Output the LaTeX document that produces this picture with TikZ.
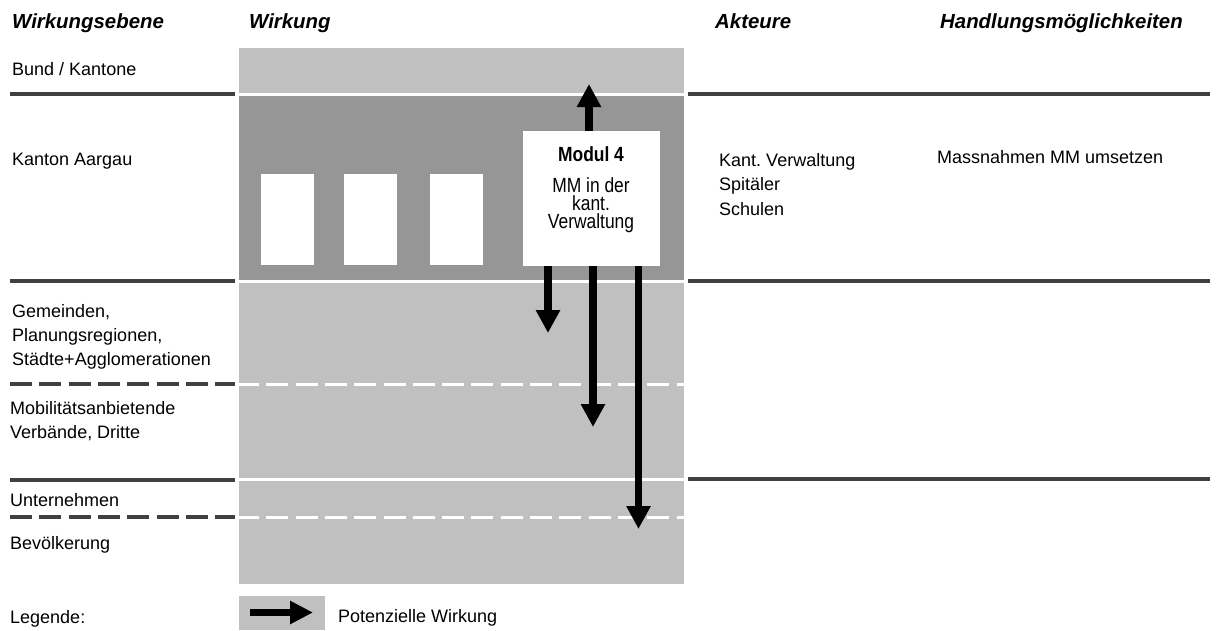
\documentclass[tikz,border=0pt]{standalone}
\usepackage{fontspec}
\setmainfont{Liberation Sans}
\newfontfamily\narrowsans[FakeStretch=0.85]{Liberation Sans}
\usetikzlibrary{arrows.meta}
\definecolor{bandlight}{HTML}{C0C0C0}
\definecolor{banddark}{HTML}{969696}
\definecolor{rulegray}{HTML}{404040}
\frenchspacing
\begin{document}
\begin{tikzpicture}[x=1pt,y=-1pt,
  % multi-line nodes are placed by the baseline of their last line
  txt/.style={inner sep=0pt, anchor=base west, align=left, font=\fontsize{18}{24}\selectfont},
  colhead/.style={inner sep=0pt, anchor=base west, font=\fontsize{20.4}{24}\bfseries\itshape},
  levelrule/.style={draw=rulegray, line width=4pt},
  levelsplit/.style={levelrule, dash pattern=on 22pt off 7.3pt},
  bandrule/.style={draw=white, line width=3pt},
  bandsplit/.style={bandrule, dash pattern=on 22pt off 7.3pt, dash phase=2pt},
  effect/.style={line width=7.5pt, -{Triangle[width=23pt,length=23pt]}},
  slot/.style={fill=white, draw=none, inner sep=0pt, anchor=north west,
    minimum width=53pt, minimum height=91pt},
]
\useasboundingbox (0,0) rectangle (1216,630);

% column headings
\node[colhead] (hEbene) at (12,28) {Wirkungsebene};
\node[colhead] (hWirkung) at (249,28) {Wirkung};
\node[colhead] (hAkteure) at (715,28) {Akteure};
\node[colhead] (hHandlung) at (940,28) {Handlungsmöglichkeiten};

% effect band
\fill[bandlight] (239,48) rectangle (684,584);
\fill[banddark] (239,96) rectangle (684,280);
\draw[bandrule] (239,94) -- (684,94);
\draw[bandrule] (239,281.5) -- (684,281.5);
\draw[bandrule] (239,479.5) -- (684,479.5);
\draw[bandsplit] (239,384) -- (684,384);
\draw[bandsplit] (239,517) -- (684,517);

% level separators, left column
\draw[levelrule] (10,94) -- (235,94);
\draw[levelrule] (10,281) -- (235,281);
\draw[levelsplit] (10,384) -- (235,384);
\draw[levelrule] (10,480) -- (235,480);
\draw[levelsplit] (10,517) -- (235,517);

% level separators, right columns
\draw[levelrule] (688,94) -- (1210,94);
\draw[levelrule] (688,281) -- (1210,281);
\draw[levelrule] (688,479) -- (1210,479);

% level names
\node[txt] (lBund) at (12,75) {Bund / Kantone};
\node[txt] (lKanton) at (12,165) {Kanton Aargau};
\node[txt] (lGemeinden) at (12,365) {Gemeinden,\\Planungsregionen,\\Städte+Agglomerationen};
\node[txt] (lMobil) at (10,438) {Mobilitätsanbietende\\Verbände, Dritte};
\node[txt] (lUnternehmen) at (10,506) {Unternehmen};
\node[txt] (lBevoelkerung) at (10,549) {Bevölkerung};

% other modules (empty slots)
\node[slot] (slot1) at (261,174) {};
\node[slot] (slot2) at (344,174) {};
\node[slot] (slot3) at (430,174) {};

% module 4
\node[fill=white, draw=none, inner sep=0pt, anchor=north west,
      minimum width=137pt, minimum height=135pt] (m4) at (523,131) {};
\node[inner sep=0pt, anchor=base, align=center,
      font=\narrowsans\fontsize{20.5}{17.7}\selectfont] (m4text) at (591,228)
  {\bfseries Modul 4\\[13pt]MM in der\\kant.\\Verwaltung};

% effect arrows
\coordinate (tipUp) at (589,84);
\coordinate (tipA) at (548,333);
\coordinate (tipB) at (593,427);
\coordinate (tipC) at (638.5,529);
\draw[effect] (m4.north -| tipUp) -- (tipUp);
\draw[effect] (m4.south -| tipA) -- (tipA);
\draw[effect] (m4.south -| tipB) -- (tipB);
\draw[effect] (m4.south -| tipC) -- (tipC);

% actors and actions
\node[txt, font=\fontsize{18}{24.5}\selectfont] (aKanton) at (719,215) {Kant. Verwaltung\\Spitäler\\Schulen};
\node[txt] (actMassnahmen) at (937,163) {Massnahmen MM umsetzen};

% legend
\node[txt] (legTitle) at (10,623) {Legende:};
\node[fill=bandlight, draw=none, inner sep=0pt, anchor=north west,
      minimum width=86pt, minimum height=34pt] (legBox) at (239,596) {};
\coordinate (legStart) at (250,612.5);
\coordinate (legTip) at (313,612.5);
\draw[effect, -{Triangle[width=22pt,length=23pt]}] (legStart) -- (legTip);
\node[txt] (legText) at (338,622) {Potenzielle Wirkung};
\end{tikzpicture}
\end{document}
